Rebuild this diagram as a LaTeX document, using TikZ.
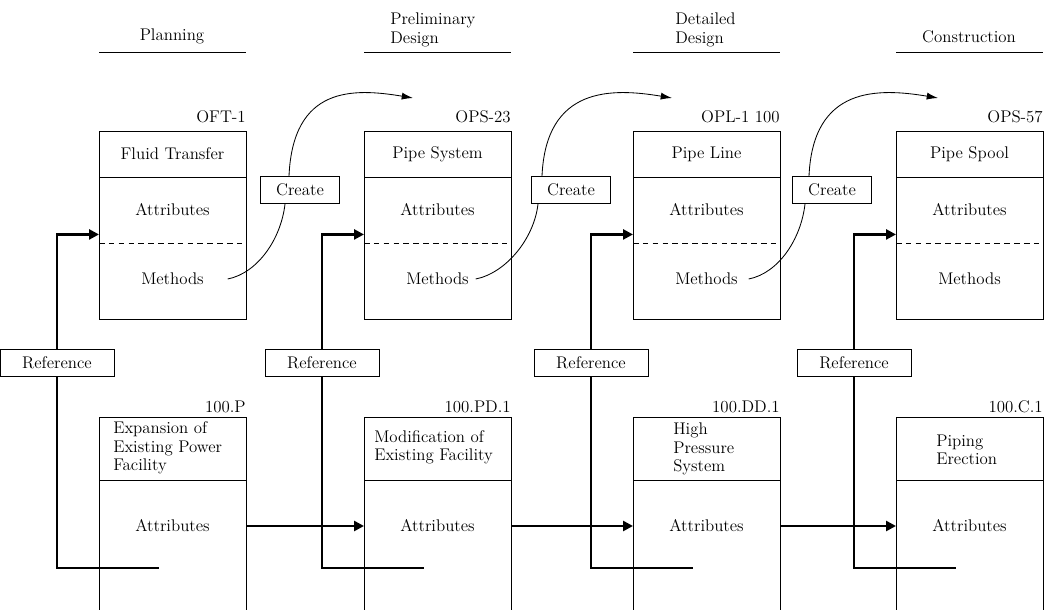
\documentclass[tikz,border=0pt]{standalone}
\usetikzlibrary{arrows.meta}

\begin{document}
\begin{tikzpicture}[x=0.025cm, y=-0.025cm,
    every node/.style={font=\fontsize{12}{13}\selectfont},
    classbox/.style={draw, line width=0.6pt, anchor=north west, inner sep=0pt, minimum width=3.675cm, minimum height=4.7cm},
    casebox/.style={draw, line width=0.6pt, anchor=north west, inner sep=0pt, minimum width=3.675cm, minimum height=5.4cm},
    tagbox/.style={draw, line width=0.6pt, fill=white, inner sep=0pt, minimum height=0.68cm},
    code/.style={anchor=base east, inner sep=0pt},
    title/.style={anchor=west, align=left, inner sep=0pt},
    refline/.style={line width=2pt},
    flowline/.style={line width=2pt, -{Triangle[length=7pt, width=7pt]}},
    createline/.style={line width=0.6pt}
]
  \useasboundingbox (0,0) rectangle (1051,610);
  \clip (0,0) rectangle (1051,610);

  % phase headings
  \node[anchor=base, inner sep=0pt] (h1) at (172,41) {Planning};
  \node[anchor=south west, align=left, inner sep=0pt] (h2) at (390,47) {Preliminary\\Design};
  \node[anchor=south west, align=left, inner sep=0pt] (h3) at (675,47) {Detailed\\Design};
  \node[anchor=base, inner sep=0pt] (h4) at (969,43) {Construction};

  \foreach \i/\x/\code/\name/\case in {1/99/OFT-1/Fluid Transfer/100.P,
      2/364/OPS-23/Pipe System/100.PD.1, 3/633/OPL-1 100/Pipe Line/100.DD.1,
      4/896/OPS-57/Pipe Spool/100.C.1} {
    \draw[line width=0.6pt] (\x,52) -- (\x+147,52);
    % object class
    \node[classbox] (c\i) at (\x,131) {};
    \draw[line width=0.6pt] (\x,177) -- (\x+147,177);
    \draw[line width=0.6pt, dash pattern=on 4pt off 3pt] (\x,243) -- (\x+147,243);
    \node[code] (k\i) at (\x+147,123) {\code};
    \node (t\i) at (\x+73.5,154) {\name};
    \node (at\i) at (\x+73.5,210) {Attributes};
    \node (m\i) at (\x+73.5,279) {Methods};
    % project case
    \node[casebox] (b\i) at (\x,417) {};
    \draw[line width=0.6pt] (\x,480) -- (\x+147,480);
    \node[code] (n\i) at (\x+147,412) {\case};
    \node (ba\i) at (\x+73.5,526) {Attributes};
    % reference
    \node[tagbox, minimum width=2.85cm] (r\i) at (\x-42,363) {Reference};
    \draw[refline, -{Triangle[length=7pt, width=7pt]}] (r\i.north) |- ([shift={(0,9)}]c\i.west);
    \draw[refline] (r\i.south) |- ([shift={(60,151)}]b\i.north west);
  }

  \node[title] (bt1) at (113,448) {Expansion of\\Existing Power\\Facility};
  \node[title] (bt2) at (374,447) {Modification of\\Existing Facility};
  \node[title] (bt3) at (673,449) {High\\Pressure\\System};
  \node[title] (bt4) at (936,450) {Piping\\Erection};

  \foreach \i/\j in {1/2, 2/3, 3/4}
    \draw[flowline] (ba\i -| b\i.east) -- (ba\j -| b\j.west);

  % create
  \foreach \i/\j/\cx/\sx/\kx/\tx in {1/2/300/19/-15/49, 2/3/571/2/-33/39, 3/4/832/6/-27/42} {
    \node[tagbox, minimum width=1.975cm] (cr\i) at (\cx,190) {Create};
    \draw[createline] ([shift={(\sx,0)}]m\i.east) .. controls +(30,-6) and +(-4,35) .. ([shift={(\kx,0)}]cr\i.south);
    \draw[createline, -{Latex[length=8pt, width=5pt]}] ([shift={(\kx+4,0)}]cr\i.north)
      .. controls +(4,-90) and +(-60,-10) .. ([shift={(\tx,-33)}]c\j.north west);
  }
\end{tikzpicture}
\end{document}
